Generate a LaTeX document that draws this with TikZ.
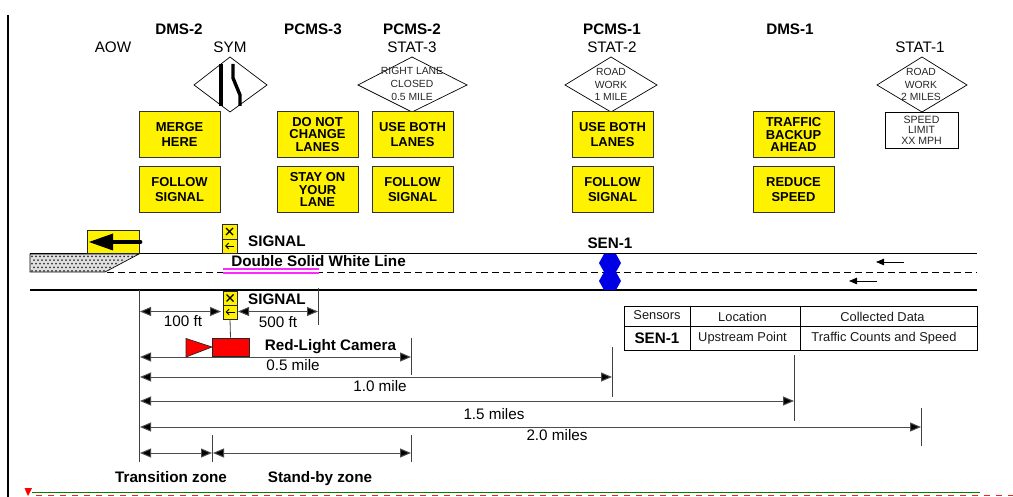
\documentclass[tikz,border=0pt]{standalone}
\usepackage{fontspec}
\setmainfont{Liberation Sans}
\usetikzlibrary{arrows.meta,shapes.geometric}
\newcommand{\fsz}[2]{\fontsize{#1}{#2}\selectfont}
\definecolor{magline}{RGB}{255,40,255}
\definecolor{redline}{RGB}{255,30,30}
\tikzset{
  x=1bp,y=-1bp,
  head/.style={font=\fsz{15.3}{17}\bfseries,inner sep=0pt},
  lab/.style={font=\fsz{15.3}{17},inner sep=0pt},
  signbox/.style={draw=black!80,line width=0.9pt,fill=yellow,minimum width=81bp,minimum height=46bp,inner sep=0pt,align=center,font=\fsz{13}{14.5}\bfseries},
  tight/.style={font=\fsz{13}{12.8}\bfseries},
  dia/.style={draw=black,line width=0.7pt},
  smalltxt/.style={font=\fsz{10.4}{12.7},inner sep=0pt,align=center,text=black!85},
  dim/.style={draw=black!70,line width=1pt,{Triangle[length=11bp,width=9bp,fill=black]}-{Triangle[length=11bp,width=9bp,fill=black]}},
  tick/.style={draw=black!75,line width=0.8pt},
  road/.style={draw=black,line width=1.4pt},
  cell/.style={font=\fsz{12.9}{14},inner sep=0pt,text=black!90},
  vmsig/.style={draw=black!85,line width=0.7pt,fill=yellow},
}
\begin{document}
\begin{tikzpicture}
\useasboundingbox (0,0) rectangle (1013,497);
% page rule and bottom strip
\coordinate (ruleA) at (8,15); \coordinate (ruleB) at (8,497);
\draw[black,line width=1.8pt] (ruleA) -- (ruleB);
\coordinate (greenA) at (32,492.5); \coordinate (greenB) at (980,492.5);
\draw[green!50!black,line width=1.8pt] (greenA) -- (greenB);
\coordinate (redA) at (36,495.7); \coordinate (redB) at (1013,495.7);
\draw[draw=redline,line width=1.2pt,dash pattern=on 6bp off 6bp] (redA) -- (redB);
\fill[red] (24.5,488) -- (32,488) -- (28,496) -- cycle;
% column headers
\node[head] (hd2) at (179,29) {DMS-2};
\node[lab] (haow) at (113,47) {AOW};
\node[lab] (hsym) at (230,47) {SYM};
\node[head] (hp3) at (313,29) {PCMS-3};
\node[head] (hp2) at (412,29) {PCMS-2};
\node[lab] (hs3) at (412,47) {STAT-3};
\node[head] (hp1) at (612,29) {PCMS-1};
\node[lab] (hs2) at (612,47) {STAT-2};
\node[head] (hd1) at (790,29) {DMS-1};
\node[lab] (hs1) at (920,47) {STAT-1};
% diamonds
\draw[dia] (194,85) -- (230,57) -- (267,85) -- (230,112) -- cycle;
\draw[black,line width=3.4pt] (221,64) -- (221,106);
\draw[black,line width=3.4pt] (233,64) -- (233,78) -- (240,95) -- (240,106);
\draw[dia] (358,85) -- (412,57) -- (467,85) -- (412,112) -- cycle;
\node[smalltxt] (t3) at (412,84) {RIGHT LANE\\CLOSED\\0.5 MILE};
\draw[dia] (565,85) -- (611,57) -- (657,85) -- (611,112) -- cycle;
\node[smalltxt] (t2) at (611,84.5) {ROAD\\WORK\\1 MILE};
\draw[dia] (877,85) -- (922,57) -- (967,85) -- (922,112) -- cycle;
\node[smalltxt] (t1) at (921,84.5) {ROAD\\WORK\\2 MILES};
\node[draw=black,line width=0.7pt,minimum width=73bp,minimum height=36bp,inner sep=0pt,align=center,font=\fsz{10.6}{10.5},text=black!85] (spd) at (921.5,130) {SPEED\\LIMIT\\XX MPH};
% signs
\node[signbox] (s1) at (179.5,134.5) {MERGE\\HERE};
\node[signbox] (s2) at (179.5,189.5) {FOLLOW\\SIGNAL};
\node[signbox,tight] (s3) at (317.5,134.5) {DO NOT\\CHANGE\\LANES};
\node[signbox,tight] (s4) at (317.5,189.5) {STAY ON\\YOUR\\LANE};
\node[signbox] (s5) at (412.5,134.5) {USE BOTH\\LANES};
\node[signbox] (s6) at (412.5,189.5) {FOLLOW\\SIGNAL};
\node[signbox] (s7) at (612.5,134.5) {USE BOTH\\LANES};
\node[signbox] (s8) at (612.5,189.5) {FOLLOW\\SIGNAL};
\node[signbox,tight] (s9) at (793.5,134.5) {TRAFFIC\\BACKUP\\AHEAD};
\node[signbox] (s10) at (793.5,189.5) {REDUCE\\SPEED};
% road
\fill[black!12] (30,254) -- (139,254) -- (105,272) -- (30,272) -- cycle;
\foreach \i in {0,...,4} {\foreach \j in {0,...,27} {
  \pgfmathsetmacro{\px}{32+\j*4+mod(\i,2)*2}
  \pgfmathsetmacro{\py}{256.5+\i*3.6}
  \pgfmathparse{\px<137-(\py-254)*1.9 ? 1 : 0}
  \ifdim\pgfmathresult pt=1pt \fill[black!80] (\px,\py) circle (1bp);\fi
}}
\draw[black,line width=0.7pt] (30,254) -- (139,254) -- (105,272) -- (30,272) -- cycle;
\coordinate (rtA) at (30,253.5); \coordinate (rtB) at (977,253.5);
\coordinate (rbA) at (30,290); \coordinate (rbB) at (977,290);
\coordinate (rmA) at (107,272); \coordinate (rmB) at (977,272);
\draw[road] (rtA) -- (rtB);
\draw[road] (rbA) -- (rbB);
\draw[black,line width=0.8pt,dash pattern=on 6.5bp off 4.5bp] (rmA) -- (rmB);
\coordinate (mgA) at (223,269); \coordinate (mgB) at (319,269);
\coordinate (mgC) at (223,273); \coordinate (mgD) at (319,273);
\fill[white] (223,270) rectangle (319,272.4);
\draw[draw=magline,line width=1.3pt] (mgA) -- (mgB);
\draw[draw=magline,line width=1.3pt] (mgC) -- (mgD);
\node[head] (dbl) at (318.5,261) {Double Solid White Line};
% AOW arrow board
\node[draw=black!85,line width=0.7pt,fill=yellow,minimum width=52bp,minimum height=23bp,inner sep=0pt] (aow) at (113,241.5) {};
\coordinate (aowA) at (140.5,242); \coordinate (aowB) at (100,242);
\draw[black,line width=3.8pt,line cap=round] (aowA) -- (aowB);
\fill[black] (89,242) -- (113,233.5) -- (113,250.5) -- cycle;
% signals
\node[vmsig,minimum width=15bp,minimum height=15bp,inner sep=0pt] (sta) at (229.5,231.5) {};
\node[vmsig,minimum width=15bp,minimum height=14bp,inner sep=0pt] (stb) at (229.5,246) {};
\draw[black,line width=1.1pt] (226,228) -- (233,235) (233,228) -- (226,235);
\draw[black,line width=0.9pt,-{Straight Barb[length=3bp,width=6bp]}] (234,246) -- (225,246);
\node[vmsig,minimum width=14bp,minimum height=14bp,inner sep=0pt] (sba) at (230,298) {};
\node[vmsig,minimum width=14bp,minimum height=14bp,inner sep=0pt] (sbb) at (230,312) {};
\draw[black,line width=1.1pt] (226.5,294.5) -- (233.5,301.5) (233.5,294.5) -- (226.5,301.5);
\draw[black,line width=0.9pt,-{Straight Barb[length=3bp,width=6bp]}] (234.5,312) -- (225.5,312);
\node[head] (sgt) at (277,241) {SIGNAL};
\node[head] (sgb) at (277,299) {SIGNAL};
% camera
\node[draw=black!85,line width=0.7pt,fill=red,minimum width=37bp,minimum height=18bp,inner sep=0pt] (cam) at (230.5,347) {};
\draw[black!85,line width=0.7pt,fill=red] (186,338.5) -- (212,347) -- (186,357) -- cycle;
\draw[black!75,line width=0.8pt] (sbb.south) -- (cam.north);
\node[head] (rlc) at (330.5,347) {Red-Light Camera};
% sensor
\fill[blue!90!black] (604,254) -- (616,254) -- (621,263) -- (616,272) -- (621,281) -- (616,290) -- (604,290) -- (599,281) -- (604,272) -- (599,263) -- cycle;
\node[head] (sen) at (610,243) {SEN-1};
% traffic arrows
\coordinate (taA) at (904,262); \coordinate (taB) at (876,262);
\coordinate (tbA) at (877,281); \coordinate (tbB) at (849,281);
\draw[black,line width=0.8pt,-{Triangle[length=8bp,width=6.5bp]}] (taA) -- (taB);
\draw[black,line width=0.8pt,-{Triangle[length=8bp,width=6.5bp]}] (tbA) -- (tbB);
% dimension ticks
\coordinate (v0a) at (139,290); \coordinate (v0b) at (139,462);
\draw[tick] (v0a) -- (v0b);
\coordinate (v1a) at (318,288); \coordinate (v1b) at (318,325);
\draw[tick] (v1a) -- (v1b);
\coordinate (v2a) at (411,338); \coordinate (v2b) at (411,375);
\draw[tick] (v2a) -- (v2b);
\coordinate (v3a) at (612,347); \coordinate (v3b) at (612,397);
\draw[tick] (v3a) -- (v3b);
\coordinate (v4a) at (794,355); \coordinate (v4b) at (794,421);
\draw[tick] (v4a) -- (v4b);
\coordinate (v5a) at (921,408); \coordinate (v5b) at (921,446);
\draw[tick] (v5a) -- (v5b);
\coordinate (v6a) at (212,435); \coordinate (v6b) at (212,462);
\draw[tick] (v6a) -- (v6b);
\coordinate (v7a) at (411,435); \coordinate (v7b) at (411,462);
\draw[tick] (v7a) -- (v7b);
% dimensions
\coordinate (a1) at (140,311.5); \coordinate (b1) at (221,311.5);
\draw[dim] (a1) -- (b1);
\coordinate (a2) at (238,311.5); \coordinate (b2) at (318,311.5);
\draw[dim] (a2) -- (b2);
\coordinate (a3) at (140,357); \coordinate (b3) at (411,357);
\draw[dim] (a3) -- (b3);
\coordinate (a4) at (140,377); \coordinate (b4) at (612,377);
\draw[dim] (a4) -- (b4);
\coordinate (a5) at (140,401); \coordinate (b5) at (794,401);
\draw[dim] (a5) -- (b5);
\coordinate (a6) at (140,427); \coordinate (b6) at (921,427);
\draw[dim] (a6) -- (b6);
\coordinate (a7) at (140,453); \coordinate (b7) at (212,453);
\draw[dim] (a7) -- (b7);
\coordinate (a8) at (213,453); \coordinate (b8) at (411,453);
\draw[dim] (a8) -- (b8);
\node[lab] (l100) at (183,321) {100 ft};
\node[lab] (l500) at (278,322) {500 ft};
\node[lab] (l05) at (293,365) {0.5 mile};
\node[lab] (l10) at (380,386) {1.0 mile};
\node[lab] (l15) at (494,414) {1.5 miles};
\node[lab] (l20) at (557,435) {2.0 miles};
\node[head,anchor=base] (ztr) at (171,482) {Transition zone};
\node[head,anchor=base] (zsb) at (320,482) {Stand-by zone};
% table
\draw[black,line width=0.8pt] (624,306) rectangle (977,350);
\draw[black,line width=0.8pt] (624,326.5) -- (977,326.5) (690,306) -- (690,350) (800,306) -- (800,350);
\node[cell] (c1) at (657,315.5) {Sensors};
\node[cell] (c2) at (742.5,316.5) {Location};
\node[cell] (c3) at (882.5,316.5) {Collected Data};
\node[head] (c4) at (657,338) {SEN-1};
\node[cell] (c5) at (742.5,338) {Upstream Point};
\node[cell] (c6) at (884,338) {Traffic Counts and Speed};
\end{tikzpicture}
\end{document}
